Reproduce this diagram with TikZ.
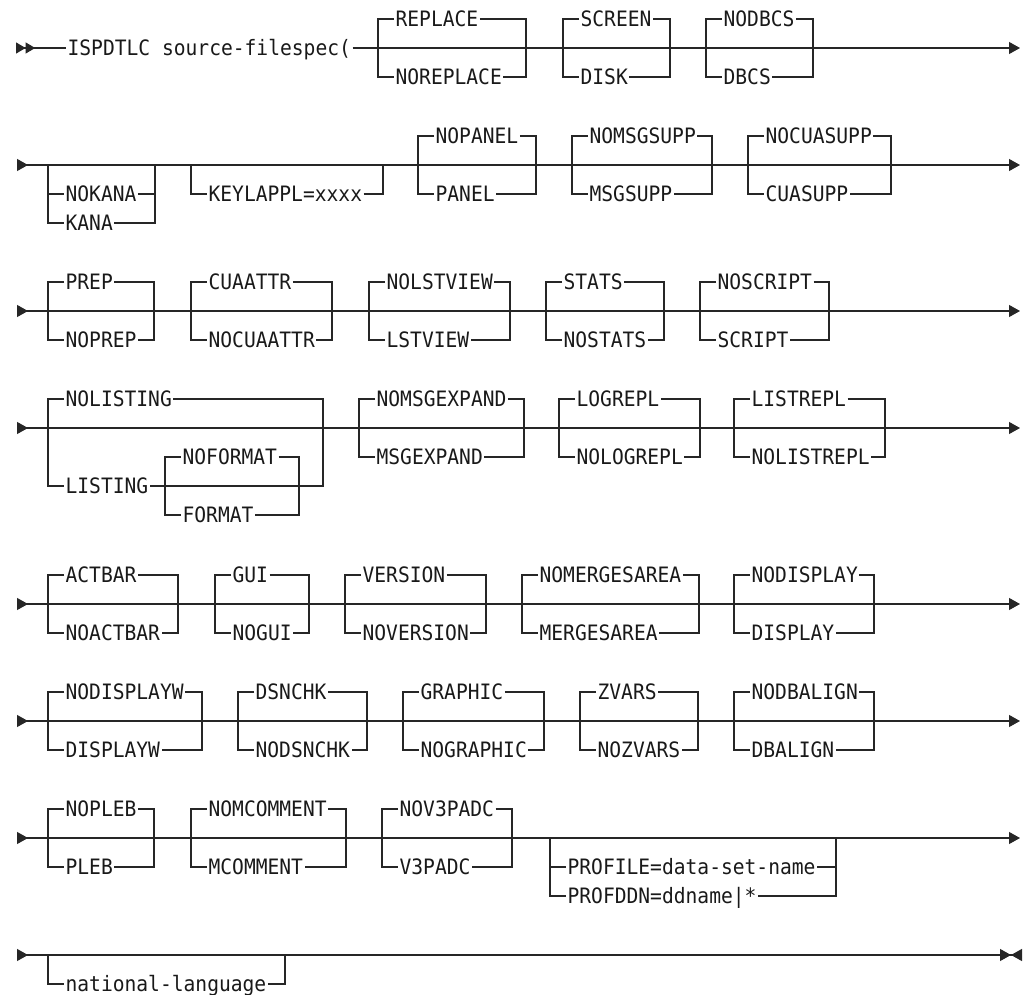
\documentclass[tikz,border=0pt]{standalone}
\usepackage{fontspec}
\newfontfamily\railfont[FakeStretch=0.925]{DejaVu Sans Mono}
\usetikzlibrary{arrows.meta}

\begin{document}
\begin{tikzpicture}[
  x=0.5pt, y=-0.5pt,
  font=\railfont\fontsize{10.6}{12}\selectfont,
  rail/.style={draw=black!85, line width=0.6pt},
  mainline/.style={rail, {Triangle[reversed, length=5.5pt, width=6pt]}-{Triangle[length=5.5pt, width=6pt]}},
  opt/.style={anchor=west, inner sep=0pt, inner xsep=0.6pt, text height=7.7pt, text depth=0pt, text=black!90},
]
\useasboundingbox (0,0) rectangle (1023,995);

\coordinate (s1) at (16,48);
\coordinate (e1) at (1020,48);
\node[opt] (cmd) at (66,48) {ISPDTLC source-filespec(};
\draw[rail, {Triangle[reversed, length=4.8pt, width=5.5pt, sep=0pt] Triangle[reversed, length=4.8pt, width=5.5pt, sep=0pt]}-] (s1) -- (cmd.west);
\draw[rail, -{Triangle[length=5.5pt, width=6pt]}] (cmd.east) -- (e1);

\foreach \r/\y in {2/165, 3/311, 4/428, 5/604, 6/721, 7/838} {
  \coordinate (s\r) at (17,\y);
  \coordinate (e\r) at (1020,\y);
  \draw[mainline] (s\r) -- (e\r);
}
\coordinate (s8) at (17,955);
\coordinate (e8) at (1022,955);
\draw[rail, {Triangle[reversed, length=5.5pt, width=6pt]}-{Triangle[length=5.5pt, width=6pt, sep=0pt] Triangle[reversed, length=5.5pt, width=6pt]}] (s8) -- (e8);

\foreach \nm/\xl/\xr/\y/\up/\dn in {
  rep/378/526/48/REPLACE/NOREPLACE, scr/563/670/48/SCREEN/DISK, dbcs/706/813/48/NODBCS/DBCS,
  pan/418/536/165/NOPANEL/PANEL, msgs/572/712/165/NOMSGSUPP/MSGSUPP, cuas/748/891/165/NOCUASUPP/CUASUPP,
  prep/48/154/311/PREP/NOPREP, cuaa/191/332/311/CUAATTR/NOCUAATTR, lstv/369/510/311/NOLSTVIEW/LSTVIEW,
  stat/546/664/311/STATS/NOSTATS, scrp/700/829/311/NOSCRIPT/SCRIPT,
  msgx/359/524/428/NOMSGEXPAND/MSGEXPAND, logr/559/700/428/LOGREPL/NOLOGREPL, lstr/734/885/428/LISTREPL/NOLISTREPL,
  actb/48/178/604/ACTBAR/NOACTBAR, gui/215/309/604/GUI/NOGUI, vers/345/486/604/VERSION/NOVERSION,
  merg/522/699/604/NOMERGESAREA/MERGESAREA, disp/734/874/604/NODISPLAY/DISPLAY,
  dspw/48/202/721/NODISPLAYW/DISPLAYW, dsn/238/367/721/DSNCHK/NODSNCHK, grph/403/544/721/GRAPHIC/NOGRAPHIC,
  zv/580/698/721/ZVARS/NOZVARS, dbal/734/874/721/NODBALIGN/DBALIGN,
  pleb/48/154/838/NOPLEB/PLEB, mcom/191/346/838/NOMCOMMENT/MCOMMENT, v3p/382/512/838/NOV3PADC/V3PADC} {
  \coordinate (\nm-L) at (\xl,\y);
  \coordinate (\nm-R) at (\xr,\y);
  \node[opt] (\nm-u) at (\xl+16,\y-29) {\up};
  \node[opt] (\nm-d) at (\xl+16,\y+29) {\dn};
  \draw[rail] (\nm-u.west) -| (\nm-L) |- (\nm-d.west);
  \draw[rail] (\nm-u.east) -| (\nm-R) |- (\nm-d.east);
}

\coordinate (kanaL) at (48,165);
\coordinate (kanaR) at (155,165);
\node[opt] (nokana) at (64,194) {NOKANA};
\node[opt] (kana) at (64,223) {KANA};
\draw[rail] (kanaL) |- (kana.west);
\draw[rail] (kanaL |- nokana.west) -- (nokana.west);
\draw[rail] (kana.east) -| (kanaR);
\draw[rail] (nokana.east) -- (kanaR |- nokana.east);

\coordinate (keylL) at (191,165);
\coordinate (keylR) at (383,165);
\node[opt] (keyl) at (207,194) {KEYLAPPL=xxxx};
\draw[rail] (keylL) |- (keyl.west);
\draw[rail] (keyl.east) -| (keylR);

\coordinate (lstL) at (48,428);
\coordinate (lstR) at (323,428);
\coordinate (fmtL) at (165,486);
\coordinate (fmtR) at (299,486);
\node[opt] (nolst) at (64,399) {NOLISTING};
\node[opt] (lst) at (64,486) {LISTING};
\node[opt] (nofmt) at (181,457) {NOFORMAT};
\node[opt] (fmt) at (181,515) {FORMAT};
\draw[rail] (nolst.west) -| (lstL) |- (lst.west);
\draw[rail] (nolst.east) -| (lstR) |- (lst.east);
\draw[rail] (nofmt.west) -| (fmtL) |- (fmt.west);
\draw[rail] (nofmt.east) -| (fmtR) |- (fmt.east);

\coordinate (profL) at (550,838);
\coordinate (profR) at (836,838);
\node[opt] (prof) at (566,867) {PROFILE=data-set-name};
\node[opt] (profdd) at (566,896) {PROFDDN=ddname|*};
\draw[rail] (profL) |- (profdd.west);
\draw[rail] (profL |- prof.west) -- (prof.west);
\draw[rail] (profdd.east) -| (profR);
\draw[rail] (prof.east) -- (profR |- prof.east);

\coordinate (natlL) at (48,955);
\coordinate (natlR) at (285,955);
\node[opt] (natl) at (64,984) {national-language};
\draw[rail] (natlL) |- (natl.west);
\draw[rail] (natl.east) -| (natlR);
\end{tikzpicture}
\end{document}
